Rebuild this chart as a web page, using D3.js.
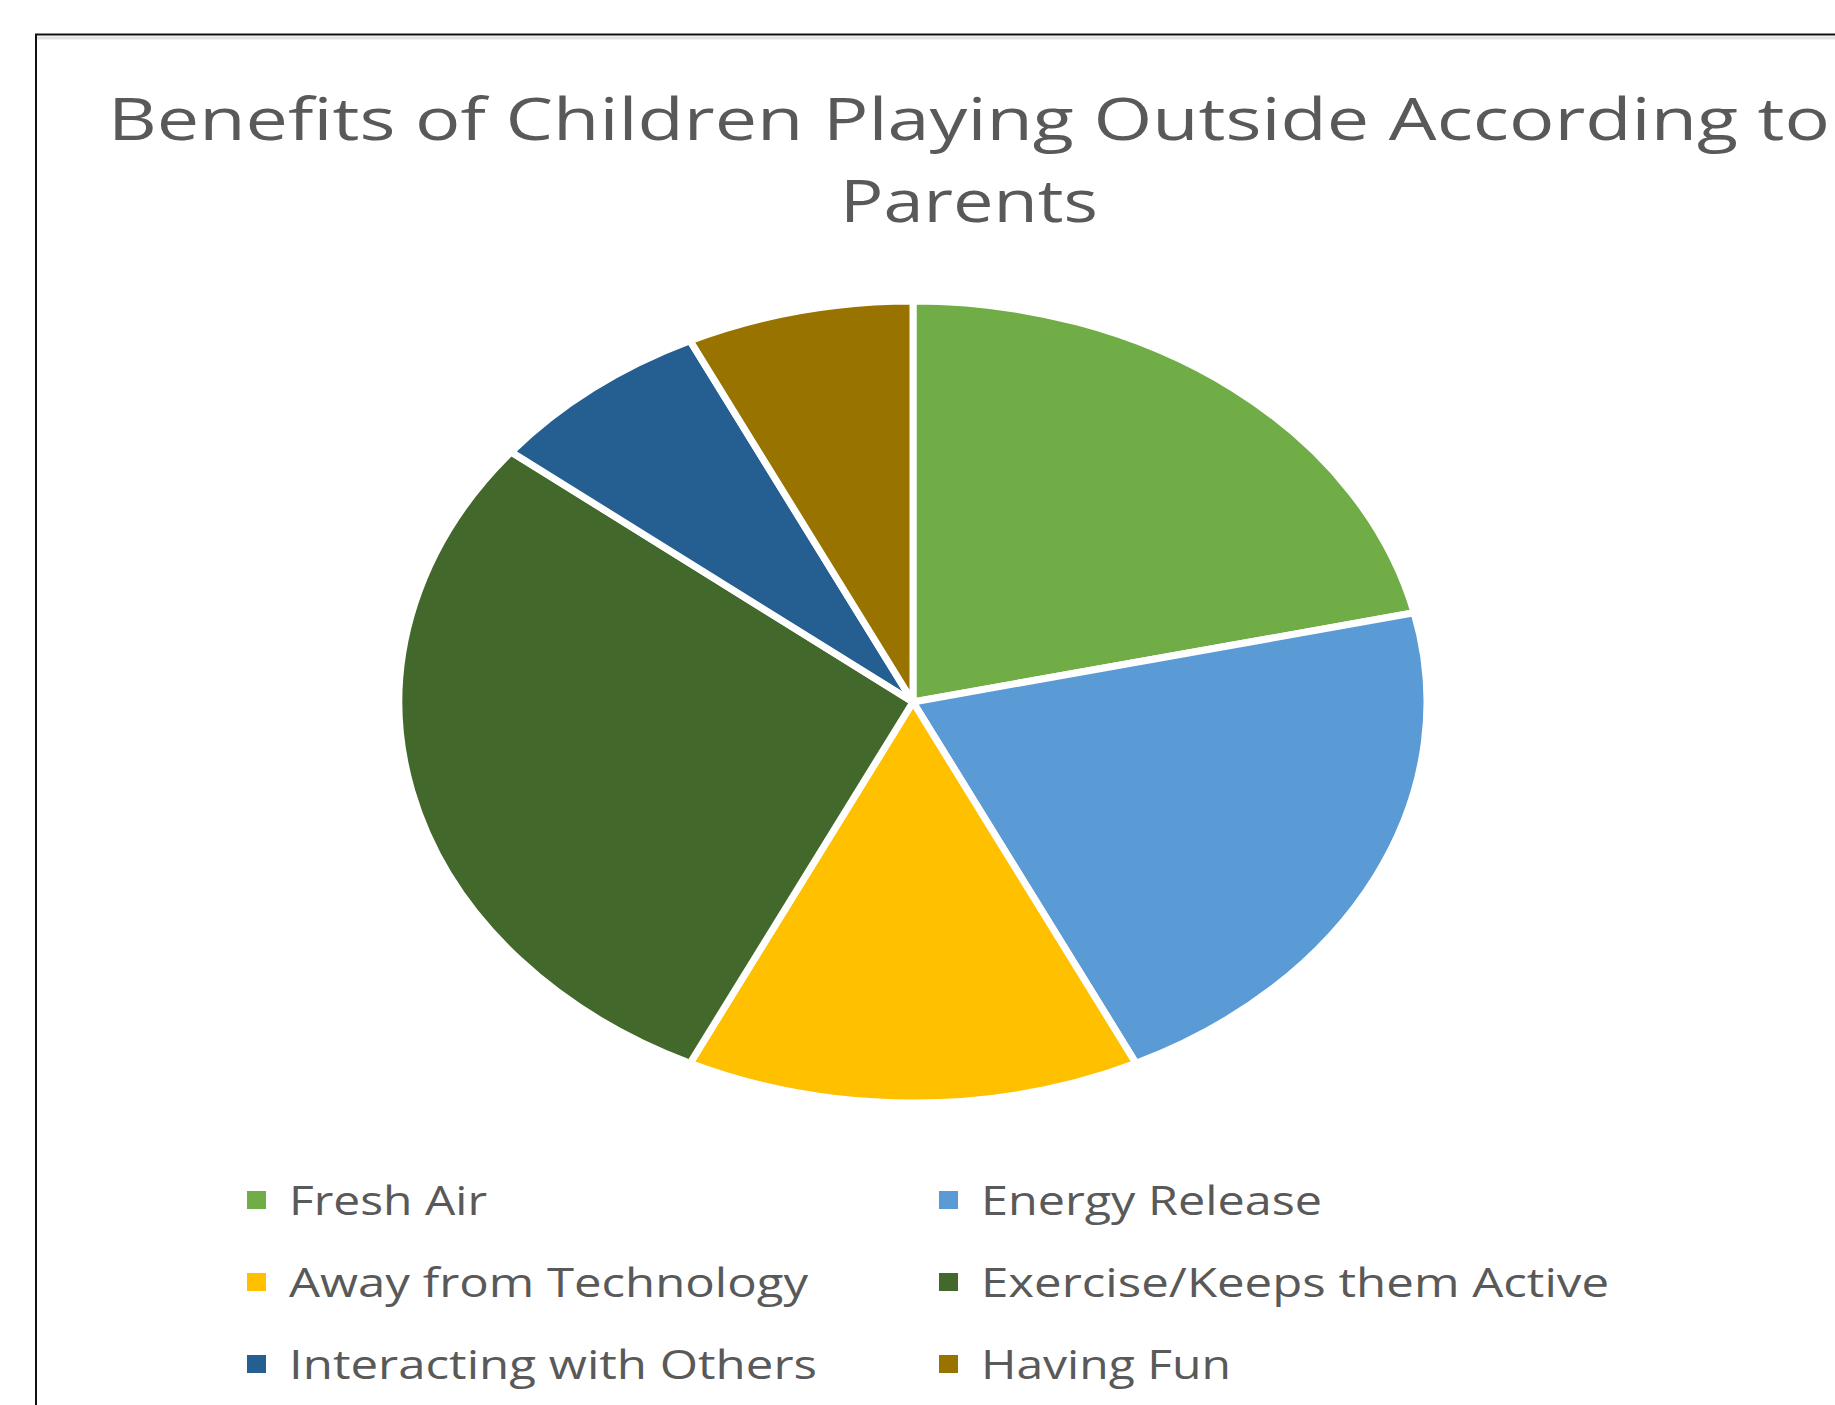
<!DOCTYPE html>
<html>
<head>
<meta charset="utf-8">
<script src="https://cdn.jsdelivr.net/npm/d3@7/dist/d3.min.js"></script>
<style>
  html, body { margin: 0; padding: 0; background: #fff; }
  svg { display: block; }
</style>
</head>
<body>
<svg id="chart" width="1835" height="1405"></svg>
<script>
const categories = ["Fresh Air", "Energy Release", "Away from Technology", "Exercise/Keeps them Active", "Interacting with Others", "Having Fun"];
const values = [3, 3, 2, 4, 1, 1];
const colors = ["#70AD47", "#5B9BD5", "#FFC000", "#43682B", "#255E91", "#997300"];
const titleLines = ["Benefits of Children Playing Outside According to", "Parents"];

const svg = d3.select("#chart");
const W = 1835, H = 1405;

// frame
svg.append("rect").attr("x", 0).attr("y", 0).attr("width", W).attr("height", H).attr("fill", "#fff");
svg.append("line").attr("x1", 37).attr("x2", W + 5).attr("y1", 38).attr("y2", 38)
  .attr("stroke", "#e3e3e3").attr("stroke-width", 3);
svg.append("path").attr("d", `M36,${H + 5} V34.5 H${W + 5}`)
  .attr("fill", "none").attr("stroke", "#111").attr("stroke-width", 2);

// title
const titleCx = 969;
const titleFont = "'Open Sans', 'Noto Sans', sans-serif";
const tWidths = [1722, 258];
const tBase = [140, 222];
titleLines.forEach((t, i) => {
  svg.append("text")
    .attr("x", titleCx).attr("y", tBase[i])
    .attr("text-anchor", "middle")
    .attr("font-family", titleFont)
    .attr("font-size", 58)
    .attr("fill", "#595959")
    .attr("textLength", tWidths[i])
    .attr("lengthAdjust", "spacingAndGlyphs")
    .text(t);
});

// pie (elliptical)
const cx = 913, cy = 702, rx = 514, ry = 401;
const R = 400;
const pie = d3.pie().sort(null).value(d => d)(values);
const arc = d3.arc().innerRadius(0).outerRadius(R);
const g = svg.append("g").attr("transform", `translate(${cx},${cy}) scale(${rx / R},${ry / R})`);
g.selectAll("path").data(pie).join("path")
  .attr("d", arc)
  .attr("fill", (d, i) => colors[i])
  .attr("stroke", "#fff")
  .attr("stroke-width", 7)
  .attr("stroke-linejoin", "round")
  .attr("vector-effect", "non-scaling-stroke");

// legend
const legendFont = "'Open Sans', 'Noto Sans', sans-serif";
const colX = [247, 939];
const textX = [289, 981];
const rowY = [1215, 1297, 1379];
const legWidths = [198, 341, 519, 628, 528, 250];
categories.forEach((c, i) => {
  const col = i % 2, row = Math.floor(i / 2);
  svg.append("rect")
    .attr("x", colX[col]).attr("y", rowY[row] - 24)
    .attr("width", 19).attr("height", 18)
    .attr("fill", colors[i]);
  svg.append("text")
    .attr("x", textX[col]).attr("y", rowY[row])
    .attr("font-family", legendFont)
    .attr("font-size", 41)
    .attr("fill", "#595959")
    .attr("textLength", legWidths[i])
    .attr("lengthAdjust", "spacingAndGlyphs")
    .text(c);
});
</script>
</body>
</html>
